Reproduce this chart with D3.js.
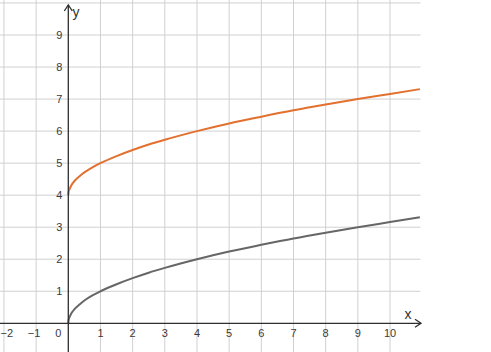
<!DOCTYPE html>
<html><head><meta charset="utf-8">
<script src="https://cdn.jsdelivr.net/npm/d3@7"></script>
<style>html,body{margin:0;padding:0;background:#fff;}svg{display:block;}</style>
</head><body>
<script>
const xTicks = [-2,-1,1,2,3,4,5,6,7,8,9,10];
const yTicks = [1,2,3,4,5,6,7,8,9];
const xs =       [0, 0.01, 0.03, 0.06, 0.1, 0.2, 0.35, 0.5, 0.75, 1, 1.5, 2, 2.5, 3, 4, 5, 6, 7, 8, 9, 10, 10.93];
const greyVals = [0, 0.10, 0.17, 0.24, 0.32, 0.45, 0.59, 0.71, 0.87, 1, 1.22, 1.41, 1.58, 1.73, 2, 2.24, 2.45, 2.65, 2.83, 3, 3.16, 3.31];
const orangeVals=[4, 4.10, 4.17, 4.24, 4.32, 4.45, 4.59, 4.71, 4.87, 5, 5.22, 5.41, 5.58, 5.73, 6, 6.24, 6.45, 6.65, 6.83, 7, 7.16, 7.31];

const W = 491, H = 352;
const x = d3.scaleLinear().domain([0, 10]).range([68.3, 390]);
const y = d3.scaleLinear().domain([0, 9]).range([323.3, 35]);
const xMin = x.invert(0), xMax = x.invert(420.5);
const yMin = y.invert(H), yMax = y.invert(0);

const svg = d3.select("body").append("svg").attr("width", W).attr("height", H);

// grid
const gridX = d3.range(Math.ceil(xMin), Math.floor(xMax) + 1).filter(v => v !== 0);
const gridY = d3.range(Math.ceil(yMin), Math.floor(yMax) + 1).filter(v => v !== 0);
svg.append("g").selectAll("line").data(gridX).join("line")
  .attr("x1", d => x(d)).attr("x2", d => x(d))
  .attr("y1", 0).attr("y2", H)
  .attr("stroke", "#d0d0d0").attr("stroke-width", 1);
svg.append("g").selectAll("line").data(gridY).join("line")
  .attr("x1", 0).attr("x2", 420.5)
  .attr("y1", d => y(d)).attr("y2", d => y(d))
  .attr("stroke", "#d0d0d0").attr("stroke-width", 1);

// curves
const line = d3.line().x((d, i) => x(xs[i])).y(d => y(d)).curve(d3.curveMonotoneX);
svg.append("path").datum(greyVals).attr("d", line)
  .attr("fill", "none").attr("stroke", "#666666").attr("stroke-width", 2);
svg.append("path").datum(orangeVals).attr("d", line)
  .attr("fill", "none").attr("stroke", "#e2702e").attr("stroke-width", 2);

// axes
const axisColor = "#2e2e2e";
svg.append("line").attr("x1", 0).attr("x2", 421).attr("y1", y(0)).attr("y2", y(0))
  .attr("stroke", axisColor).attr("stroke-width", 1.3);
svg.append("path").attr("d", `M${415},${y(0)-4} L${421},${y(0)} L${415},${y(0)+4}`)
  .attr("fill", "none").attr("stroke", axisColor).attr("stroke-width", 1.3);
svg.append("line").attr("x1", x(0)).attr("x2", x(0)).attr("y1", 5).attr("y2", H)
  .attr("stroke", axisColor).attr("stroke-width", 1.3);
svg.append("path").attr("d", `M${x(0)-4},${11} L${x(0)},${5} L${x(0)+4},${11}`)
  .attr("fill", "none").attr("stroke", axisColor).attr("stroke-width", 1.3);

const font = "'Liberation Sans', Arial, sans-serif";
const fmt = v => v < 0 ? "\u2212" + Math.abs(v) : String(v);
svg.append("g").selectAll("text").data(xTicks).join("text")
  .attr("x", d => d === -2 ? 0.5 : x(d) + (d < 0 ? -2 : 0)).attr("y", y(0) + 14)
  .attr("text-anchor", d => d === -2 ? "start" : "middle").attr("font-family", font).attr("font-size", 11)
  .attr("fill", "#3a3a3a").text(fmt);
svg.append("text").attr("x", x(0) - 10).attr("y", y(0) + 14)
  .attr("text-anchor", "middle").attr("font-family", font).attr("font-size", 11)
  .attr("fill", "#3a3a3a").text("0");
svg.append("g").selectAll("text").data(yTicks).join("text")
  .attr("x", x(0) - 6).attr("y", d => y(d) + 4)
  .attr("text-anchor", "end").attr("font-family", font).attr("font-size", 11)
  .attr("fill", "#3a3a3a").text(fmt);

svg.append("text").attr("x", 408).attr("y", 319).attr("text-anchor", "middle")
  .attr("font-family", font).attr("font-size", 14).attr("fill", "#333").text("x");
svg.append("text").attr("x", 76).attr("y", 17).attr("text-anchor", "middle")
  .attr("font-family", font).attr("font-size", 14).attr("fill", "#333").text("y");
</script>
</body></html>
